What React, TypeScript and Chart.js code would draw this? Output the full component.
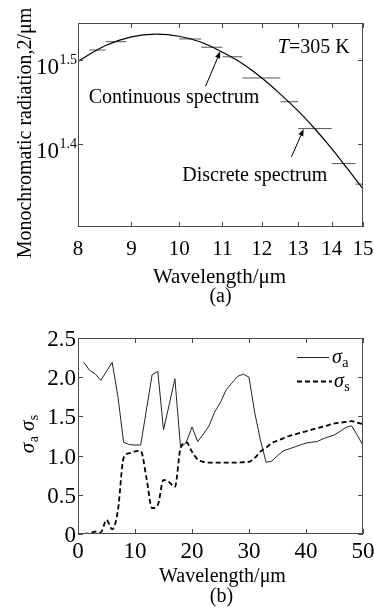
import React, { useEffect, useRef } from 'react';
import { Chart, registerables } from 'chart.js';

Chart.register(...registerables);

const SERIF = "'Liberation Serif', 'Times New Roman', Times, serif";
const AXIS = '#4a4a4a';

// ---------- (a) spectrum at T = 305 K ----------
const curveWavelength = [8, 8.5, 9, 9.5, 10, 10.5, 11, 11.5, 12, 12.5, 13, 13.5, 14, 14.5, 15];
const curveRadiation = [31.5, 32.9, 33.7, 33.95, 33.75, 33.2, 32.3, 31.3, 30.1, 28.8, 27.5, 26.15, 24.8, 23.45, 22.2];
const bandStart = [8.2, 8.5, 10.0, 10.5, 11.0, 11.5, 12.5, 13.0, 14.0, 14.75];
const bandEnd = [8.5, 8.9, 10.5, 11.0, 11.5, 12.5, 13.0, 14.0, 14.75, 15.0];
const bandRadiation = [32.5, 33.25, 33.5, 32.75, 31.9, 30.1, 28.2, 26.2, 23.8, 22.5];
const xTicksA = [8, 9, 10, 11, 12, 13, 14, 15];
const yTickExponentsA = [1.4, 1.5];
const yTickLabelsA = ['1.4', '1.5'];
const labelTexts = ['Continuous spectrum', 'Discrete spectrum'];
const labelX = [8.19, 10.07];
const labelY = [28.13, 22.71];
const arrowFromX = [10.6, 12.81];
const arrowFromY = [29.42, 24.24];
const arrowToX = [10.95, 13.16];
const arrowToY = [32.38, 26.17];
const tempLabelX = 12.43;
const tempLabelY = 32.24;

// ---------- (b) sigma_a, sigma_s ----------
const wavelengthB = [1, 2, 3, 4, 5, 6, 7, 8, 9, 10, 11, 12, 13, 14, 15, 16, 17, 18, 19, 20, 21, 22, 23, 24, 25,
  26, 27, 28, 29, 30, 31, 32, 33, 34, 35, 36, 37, 38, 39, 40, 41, 42, 43, 44, 45, 46, 47, 48, 49, 50];
const sigmaA = [2.19, 2.09, 2.045, 1.96, 2.075, 2.19, 1.755, 1.17, 1.14, 1.135,
  1.135, 1.58, 2.03, 2.075, 1.33, 1.65, 1.98, 1.10, 1.17, 1.365,
  1.18, 1.275, 1.38, 1.56, 1.68, 1.84, 1.925, 2.01, 2.04, 2.0,
  1.55, 1.2, 0.915, 0.93, 1.0, 1.06, 1.085, 1.11, 1.135, 1.16,
  1.17, 1.18, 1.215, 1.24, 1.265, 1.31, 1.36, 1.38, 1.26, 1.13];
const sigmaS = [0.0, 0.01, 0.03, 0.02, 0.18, 0.06, 0.3, 0.97, 1.03, 1.055,
  1.06, 0.72, 0.33, 0.37, 0.69, 0.66, 0.6, 1.1, 1.17, 1.05,
  0.95, 0.92, 0.91, 0.91, 0.91, 0.91, 0.91, 0.91, 0.915, 0.92,
  0.97, 1.05, 1.1, 1.16, 1.19, 1.22, 1.25, 1.27, 1.29, 1.31,
  1.33, 1.35, 1.37, 1.39, 1.41, 1.42, 1.43, 1.44, 1.42, 1.40];
const xTicksB = [0, 10, 20, 30, 40, 50];
const yTicksB = [0, 0.5, 1.0, 1.5, 2.0, 2.5];
const yTickLabelsB = ['0', '0.5', '1.0', '1.5', '2.0', '2.5'];

function drawSigma(ctx: CanvasRenderingContext2D, sub: string, x: number, y: number, size: number) {
  ctx.textAlign = 'left';
  ctx.font = `italic ${size}px ${SERIF}`;
  ctx.fillText('σ', x, y);
  const w = ctx.measureText('σ').width;
  const subSize = Math.round(size * 0.68);
  ctx.font = `${subSize}px ${SERIF}`;
  ctx.fillText(sub, x + w + 0.5, y + size * 0.18);
  return w + 0.5 + ctx.measureText(sub).width;
}

function drawFrame(ctx: CanvasRenderingContext2D, a: any) {
  ctx.strokeStyle = AXIS;
  ctx.lineWidth = 1;
  ctx.strokeRect(a.left + 0.5, a.top + 0.5, a.right - a.left - 1, a.bottom - a.top - 1);
}

const frameA = {
  id: 'frameA',
  afterDraw(chart: any) {
    const { ctx, chartArea: a, scales } = chart;
    const x = scales.x;
    const y = scales.y;
    ctx.save();
    drawFrame(ctx, a);
    ctx.beginPath();
    for (const v of xTicksA) {
      const px = Math.round(x.getPixelForValue(v)) + 0.5;
      ctx.moveTo(px, a.bottom); ctx.lineTo(px, a.bottom - 5);
      ctx.moveTo(px, a.top); ctx.lineTo(px, a.top + 5);
    }
    for (const e of yTickExponentsA) {
      const py = Math.round(y.getPixelForValue(Math.pow(10, e))) + 0.5;
      ctx.moveTo(a.left, py); ctx.lineTo(a.left + 5, py);
      ctx.moveTo(a.right, py); ctx.lineTo(a.right - 5, py);
    }
    ctx.stroke();

    ctx.fillStyle = '#000';
    ctx.textBaseline = 'alphabetic';
    // x tick labels
    ctx.font = `21px ${SERIF}`;
    ctx.textAlign = 'center';
    for (const v of xTicksA) ctx.fillText(String(v), x.getPixelForValue(v), a.bottom + 28);
    // y tick labels 10^e
    yTickExponentsA.forEach((e, i) => {
      const py = y.getPixelForValue(Math.pow(10, e));
      ctx.font = `14px ${SERIF}`;
      ctx.textAlign = 'right';
      const supRight = a.left - 1;
      ctx.fillText(yTickLabelsA[i], supRight, py + 4.5);
      const sw = ctx.measureText(yTickLabelsA[i]).width;
      ctx.font = `23px ${SERIF}`;
      ctx.fillText('10', supRight - sw - 0.5, py + 14.5);
    });
    // axis titles
    ctx.font = `21px ${SERIF}`;
    ctx.textAlign = 'center';
    const cx = (a.left + a.right) / 2;
    ctx.fillText('Wavelength/μm', cx - 1, a.bottom + 56);
    ctx.font = `20px ${SERIF}`;
    ctx.fillText('(a)', cx, a.bottom + 75);
    ctx.save();
    ctx.translate(31, (a.top + a.bottom) / 2 + 8);
    ctx.rotate(-Math.PI / 2);
    ctx.font = `20px ${SERIF}`;
    ctx.textAlign = 'center';
    ctx.fillText('Monochromatic radiation,2/μm', 0, 0);
    ctx.restore();

    // annotations
    ctx.font = `20px ${SERIF}`;
    ctx.textAlign = 'left';
    labelTexts.forEach((t, i) => {
      ctx.fillText(t, x.getPixelForValue(labelX[i]), y.getPixelForValue(labelY[i]));
    });
    const tx = x.getPixelForValue(tempLabelX);
    const ty = y.getPixelForValue(tempLabelY);
    ctx.font = `italic 20px ${SERIF}`;
    ctx.fillText('T', tx, ty);
    const tw = ctx.measureText('T').width;
    ctx.font = `20px ${SERIF}`;
    ctx.fillText('=305 K', tx + tw, ty);

    // arrows
    ctx.strokeStyle = '#000';
    ctx.lineWidth = 1;
    arrowFromX.forEach((_, i) => {
      const x0 = x.getPixelForValue(arrowFromX[i]);
      const y0 = y.getPixelForValue(arrowFromY[i]);
      const x1 = x.getPixelForValue(arrowToX[i]);
      const y1 = y.getPixelForValue(arrowToY[i]);
      const ang = Math.atan2(y1 - y0, x1 - x0);
      const len = 7, hw = 2.6;
      const bx = x1 - len * Math.cos(ang);
      const by = y1 - len * Math.sin(ang);
      ctx.beginPath();
      ctx.moveTo(x0, y0);
      ctx.lineTo(bx, by);
      ctx.stroke();
      ctx.beginPath();
      ctx.moveTo(x1, y1);
      ctx.lineTo(bx + hw * Math.sin(ang), by - hw * Math.cos(ang));
      ctx.lineTo(bx - hw * Math.sin(ang), by + hw * Math.cos(ang));
      ctx.closePath();
      ctx.fillStyle = '#000';
      ctx.fill();
    });
    ctx.restore();
  },
};

const frameB = {
  id: 'frameB',
  afterDraw(chart: any) {
    const { ctx, chartArea: a, scales } = chart;
    const x = scales.x;
    const y = scales.y;
    ctx.save();
    drawFrame(ctx, a);
    ctx.beginPath();
    for (const v of xTicksB) {
      const px = Math.round(x.getPixelForValue(v)) + 0.5;
      ctx.moveTo(px, a.bottom); ctx.lineTo(px, a.bottom - 5);
      ctx.moveTo(px, a.top); ctx.lineTo(px, a.top + 5);
    }
    for (const v of yTicksB) {
      const py = Math.round(y.getPixelForValue(v)) + 0.5;
      ctx.moveTo(a.left, py); ctx.lineTo(a.left + 5, py);
      ctx.moveTo(a.right, py); ctx.lineTo(a.right - 5, py);
    }
    ctx.stroke();

    ctx.fillStyle = '#000';
    ctx.textBaseline = 'alphabetic';
    ctx.font = `23px ${SERIF}`;
    ctx.textAlign = 'center';
    for (const v of xTicksB) ctx.fillText(String(v), x.getPixelForValue(v), a.bottom + 24);
    ctx.textAlign = 'right';
    yTicksB.forEach((v, i) => {
      ctx.fillText(yTickLabelsB[i], a.left - 2, y.getPixelForValue(v) + 8);
    });
    const cx = (a.left + a.right) / 2;
    ctx.textAlign = 'center';
    ctx.font = `20px ${SERIF}`;
    ctx.fillText('Wavelength/μm', cx + 2, a.bottom + 48);
    ctx.fillText('(b)', cx + 1, a.bottom + 68);

    // y title
    ctx.save();
    ctx.translate(34, (a.top + a.bottom) / 2 - 2);
    ctx.rotate(-Math.PI / 2);
    ctx.font = `italic 21px ${SERIF}`;
    const sw = ctx.measureText('σ').width;
    ctx.font = `14px ${SERIF}`;
    const aw = ctx.measureText('a').width;
    const s2 = ctx.measureText('s').width;
    const total = sw * 2 + aw + s2 + 1 + 5;
    let px = -total / 2;
    px += drawSigma(ctx, 'a', px, 0, 21) + 5;
    drawSigma(ctx, 's', px, 0, 21);
    ctx.restore();

    // legend
    const lx0 = a.right - 66;
    ctx.strokeStyle = '#222';
    ctx.lineWidth = 1;
    ctx.beginPath();
    ctx.moveTo(lx0, a.top + 19.5);
    ctx.lineTo(a.right - 34, a.top + 19.5);
    ctx.stroke();
    ctx.fillStyle = '#000';
    drawSigma(ctx, 'a', a.right - 31, a.top + 25, 20);
    ctx.strokeStyle = '#000';
    ctx.lineWidth = 1.8;
    ctx.setLineDash([5, 3]);
    ctx.beginPath();
    ctx.moveTo(lx0, a.top + 43.5);
    ctx.lineTo(a.right - 31, a.top + 43.5);
    ctx.stroke();
    ctx.setLineDash([]);
    drawSigma(ctx, 's', a.right - 29, a.top + 49, 20);
    ctx.restore();
  },
};

export default function App() {
  const refA = useRef<HTMLCanvasElement>(null);
  const refB = useRef<HTMLCanvasElement>(null);

  useEffect(() => {
    const bandPoints: any[] = [];
    bandStart.forEach((s, i) => {
      bandPoints.push({ x: s, y: bandRadiation[i] });
      bandPoints.push({ x: bandEnd[i], y: bandRadiation[i] });
      bandPoints.push({ x: bandEnd[i], y: null });
    });

    const chartA = new Chart(refA.current as HTMLCanvasElement, {
      type: 'line',
      data: {
        datasets: [
          {
            label: 'Continuous spectrum',
            data: curveWavelength.map((w, i) => ({ x: w, y: curveRadiation[i] })),
            borderColor: '#000',
            borderWidth: 1.2,
            pointRadius: 0,
            tension: 0.4,
            fill: false,
          },
          {
            label: 'Discrete spectrum',
            data: bandPoints,
            borderColor: '#555',
            borderWidth: 1,
            pointRadius: 0,
            tension: 0,
            spanGaps: false,
            fill: false,
          },
        ],
      },
      options: {
        responsive: false,
        animation: false,
        devicePixelRatio: 1,
        events: [],
        layout: { padding: { left: 78, right: 11, top: 23, bottom: 83 } },
        plugins: { legend: { display: false }, tooltip: { enabled: false }, title: { display: false } },
        scales: {
          x: { type: 'logarithmic', min: 8, max: 15, display: false },
          y: { type: 'logarithmic', min: 20, max: 35, display: false },
        },
      },
      plugins: [frameA],
    } as any);

    const chartB = new Chart(refB.current as HTMLCanvasElement, {
      type: 'line',
      data: {
        datasets: [
          {
            label: 'σa',
            data: wavelengthB.map((w, i) => ({ x: w, y: sigmaA[i] })),
            borderColor: '#222',
            borderWidth: 1,
            pointRadius: 0,
            tension: 0,
            fill: false,
          },
          {
            label: 'σs',
            data: wavelengthB.map((w, i) => ({ x: w, y: sigmaS[i] })),
            borderColor: '#000',
            borderWidth: 1.8,
            borderDash: [5, 3],
            pointRadius: 0,
            cubicInterpolationMode: 'monotone',
            fill: false,
          },
        ],
      },
      options: {
        responsive: false,
        animation: false,
        devicePixelRatio: 1,
        events: [],
        layout: { padding: { left: 78, right: 11, top: 28, bottom: 78 } },
        plugins: { legend: { display: false }, tooltip: { enabled: false }, title: { display: false } },
        scales: {
          x: { type: 'linear', min: 0, max: 50, display: false },
          y: { type: 'linear', min: 0, max: 2.5, display: false },
        },
      },
      plugins: [frameB],
    } as any);

    return () => {
      chartA.destroy();
      chartB.destroy();
    };
  }, []);

  return (
    <div style={{ position: 'fixed', left: 0, top: 0, width: 374, height: 612, background: '#fff' }}>
      <canvas ref={refA} width={374} height={310}
        style={{ position: 'absolute', left: 0, top: 0, width: 374, height: 310, display: 'block' }} />
      <canvas ref={refB} width={374} height={302}
        style={{ position: 'absolute', left: 0, top: 310, width: 374, height: 302, display: 'block' }} />
    </div>
  );
}
